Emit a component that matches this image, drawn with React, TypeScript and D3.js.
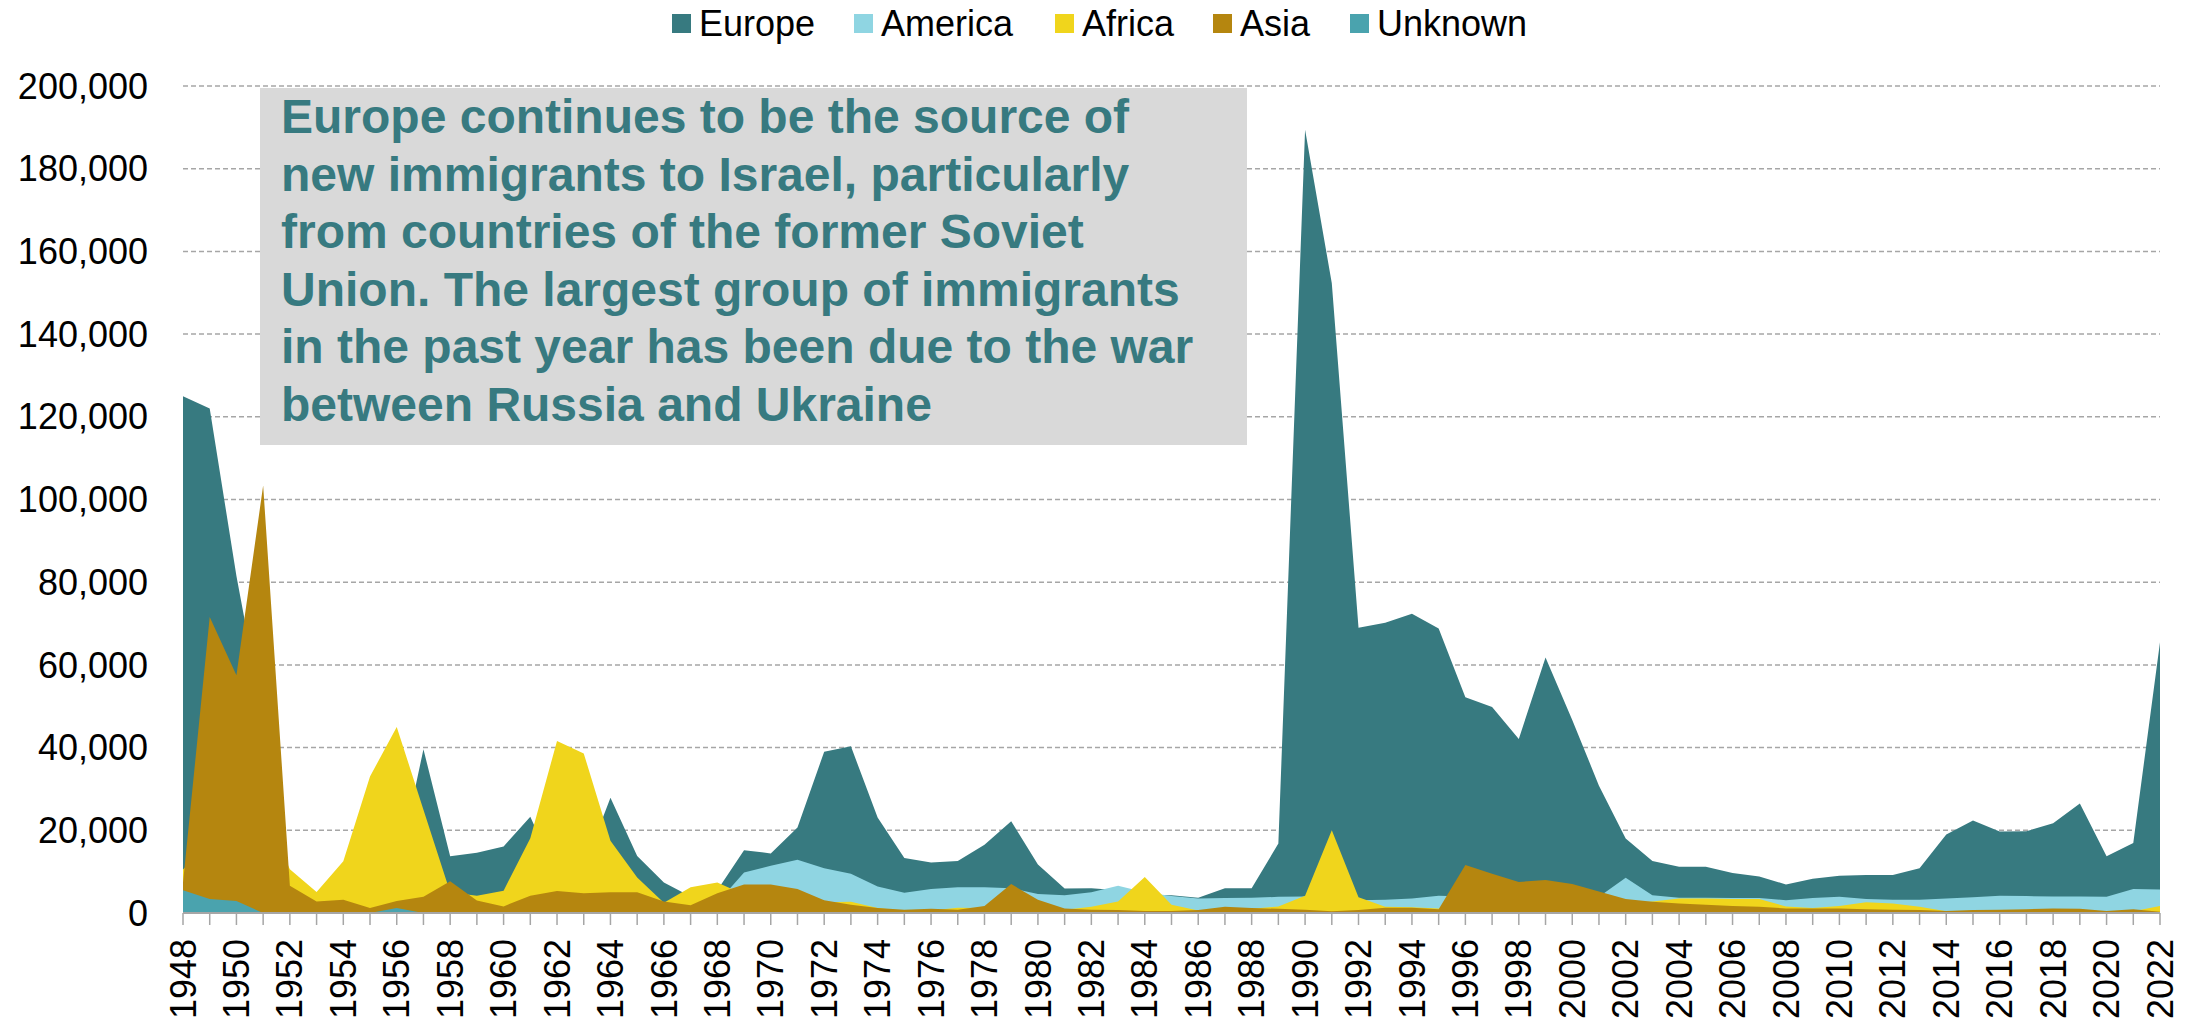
import React from 'react';
import * as d3 from 'd3';

const width = 2200;
const height = 1022;
const left = 183;
const right = 2160;
const top = 86;
const bottom = 913;

const years = d3.range(1948, 2023);

// values in thousands of immigrants
const europe = [
  125, 122, 81.5, 47, 5.5, 2.5, 2.2, 3, 9.3, 39.6,
  13.7, 14.6, 16.1, 23.3, 9, 11, 27.9, 13.8, 7.4, 4,
  5.5, 15.2, 14.4, 20.7, 39, 40.3, 23.1, 13.3, 12.2, 12.6,
  16.5, 22.2, 11.7, 5.9, 6, 5.5, 4.5, 4.3, 3.7, 6,
  6, 16.8, 189.4, 152.3, 69, 70.2, 72.4, 68.8, 52.2, 49.8,
  42.1, 61.8, 46.7, 30.8, 18, 12.6, 11.2, 11.2, 9.7, 8.8,
  6.9, 8.3, 9, 9.2, 9.2, 10.8, 19, 22.4, 19.7, 19.8,
  21.7, 26.5, 13.7, 16.9, 65.5
];
const america = [
  0.5, 1.5, 1.1, 1, 0.6, 0.4, 0.3, 0.3, 0.4, 0.5,
  0.8, 1, 1.2, 1.8, 2.3, 2.6, 3, 2.4, 2, 1.5,
  2.5, 9.8, 11.4, 12.9, 10.8, 9.5, 6.4, 4.9, 5.8, 6.2,
  6.2, 6, 4.6, 4.3, 5, 6.6, 5, 4.1, 3.5, 3.6,
  3.7, 3.9, 4, 3.5, 3.1, 3.2, 3.5, 4.2, 4, 3.8,
  3.5, 3.5, 3.6, 3.9, 8.5, 4.3, 3.7, 3.7, 3.6, 3.6,
  3.1, 3.6, 3.9, 3.4, 3.2, 3.2, 3.5, 3.8, 4.2, 4.1,
  4, 4, 3.9, 5.8, 5.7
];
const africa = [
  10.5, 17, 25, 25, 10.6, 5.1, 12.5, 33, 45, 25,
  5, 4.2, 5.4, 18.1, 41.6, 38.6, 17.5, 8.6, 2.5, 6.2,
  7.4, 4.5, 3.5, 2.5, 2.6, 2.7, 1.2, 0.5, 0.6, 1.3,
  1.2, 1, 1, 0.8, 1.5, 2.8, 8.7, 2, 0.6, 0.7,
  1, 1.6, 4.2, 20, 3.8, 1.5, 1.4, 1.1, 1.5, 1.5,
  1.5, 1.6, 1.8, 2, 2.3, 2.8, 3.5, 3.5, 3.4, 3.4,
  1.6, 1.2, 1.7, 2.6, 2.3, 1.5, 0.4, 0.3, 0.3, 0.3,
  0.3, 0.3, 0.3, 0.4, 1.7
];
const asia = [
  7.3, 71.6, 57.5, 103.4, 6.6, 2.8, 3.2, 1.2, 2.9, 3.9,
  7.7, 3, 1.6, 4.2, 5.3, 4.8, 5, 5, 2.8, 1.9,
  4.8, 6.9, 6.9, 5.8, 3.1, 2, 1.2, 0.8, 1, 0.8,
  1.7, 7, 3.2, 1.1, 0.8, 0.7, 0.5, 0.5, 0.7, 1.5,
  1.2, 1, 0.8, 0.4, 0.7, 1.3, 1.3, 0.9, 11.6, 9.5,
  7.5, 8, 7, 5.2, 3.4, 2.7, 2.3, 2, 1.7, 1.5,
  1.1, 1.1, 1.1, 0.9, 0.8, 0.7, 0.5, 0.7, 0.8, 0.9,
  1.1, 1, 0.5, 0.9, 0.3
];
const unknown = [
  5.5, 3.4, 2.9, 0, 0, 0, 0, 0, 1.2, 0,
  0, 0, 0, 0, 0, 0, 0, 0, 0, 0,
  0, 0, 0, 0, 0, 0, 0, 0, 0, 0,
  0, 0, 0, 0, 0, 0, 0, 0, 0, 0,
  0, 0, 0, 0, 0, 0, 0, 0, 0, 0,
  0, 0, 0, 0, 0, 0, 0, 0, 0, 0,
  0, 0, 0, 0, 0, 0.2, 0.25, 0.25, 0.25, 0.25,
  0.25, 0.25, 0.25, 0.2, 0
];

const seriesNames = ['Europe', 'America', 'Africa', 'Asia', 'Unknown'];
const seriesValues = [europe, america, africa, asia, unknown];
const colors = ['#377A80', '#8FD5E2', '#F0D51C', '#B5860F', '#4AA3AE'];

const yTicks = d3.range(0, 200001, 20000);
const xLabelYears = years.filter(y => y % 2 === 0);

const noteLines = [
  'Europe continues to be the source of',
  'new immigrants to Israel, particularly',
  'from countries of the former Soviet',
  'Union. The largest group of immigrants',
  'in the past year has been due to the war',
  'between Russia and Ukraine'
];

// legend item x positions (square left edge)
const legendX = [672, 854, 1055, 1213, 1350];

const x = d3.scaleLinear().domain([1948, 2022]).range([left, right]);
const y = d3.scaleLinear().domain([0, 200000]).range([bottom, top]);

const area = d3.area<number>()
  .x((d, i) => x(years[i]))
  .y0(y(0))
  .y1(d => y(d * 1000));

const font = 'Liberation Sans, Arial, sans-serif';

const App = () => {
  return (
    <svg width={width} height={height} style={{ position: 'absolute', left: 0, top: 0, background: '#fff' }} fontFamily={font}>
      {/* gridlines */}
      {yTicks.filter(t => t > 0).map(t => (
        <line key={t} x1={left} x2={right} y1={y(t)} y2={y(t)}
          stroke="#A6A6A6" strokeWidth={1.5} strokeDasharray="5,3" />
      ))}

      {/* note box */}
      <rect x={260} y={88} width={987} height={357} fill="#D9D9D9" />
      {noteLines.map((s, i) => (
        <text key={i} x={281} y={133 + i * 57.6} fontSize={48} fontWeight="bold" fill="#377A80">{s}</text>
      ))}

      {/* areas, drawn on top of each other */}
      {seriesValues.map((vals, i) => (
        <path key={seriesNames[i]} d={area(vals) || ''} fill={colors[i]} />
      ))}

      {/* x axis */}
      <line x1={left} x2={right} y1={bottom} y2={bottom} stroke="#A6A6A6" strokeWidth={2} />
      {years.map(yr => (
        <line key={yr} x1={x(yr)} x2={x(yr)} y1={bottom} y2={bottom + 12} stroke="#A6A6A6" strokeWidth={1.5} />
      ))}
      {xLabelYears.map(yr => (
        <text key={yr} transform={`translate(${x(yr)},939) rotate(-90)`} textAnchor="end" dy="0.35em" fontSize={36} fill="#000">{yr}</text>
      ))}

      {/* y axis labels */}
      {yTicks.map(t => (
        <text key={t} x={148} y={y(t)} dy="0.35em" textAnchor="end" fontSize={36} fill="#000">{d3.format(',')(t)}</text>
      ))}

      {/* legend */}
      {seriesNames.map((n, i) => (
        <g key={n} transform={`translate(${legendX[i]},0)`}>
          <rect x={0} y={14} width={19} height={19} fill={colors[i]} />
          <text x={27} y={36} fontSize={36} fill="#000">{n}</text>
        </g>
      ))}
    </svg>
  );
};

export default App;
